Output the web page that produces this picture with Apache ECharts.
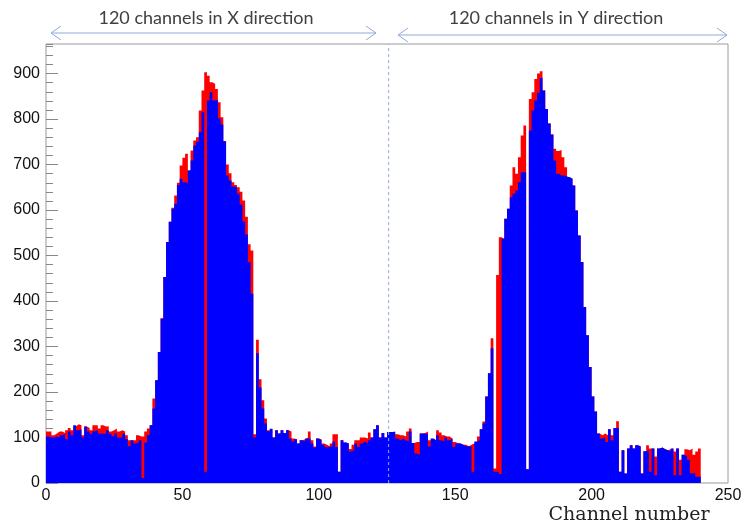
<!DOCTYPE html>
<html><head><meta charset="utf-8">
<script src="https://cdn.jsdelivr.net/npm/echarts@6/dist/echarts.min.js"></script>
<style>html,body{margin:0;padding:0;background:#fff}#c{width:745px;height:528px}</style>
</head><body><div id="c"></div>
<script>
// Channel counts (bin i spans [i, i+1])
const blueCounts = [
102,100,100,102,100,105,108,96,113,105,
127,116,118,100,124,113,108,114,116,109,
108,108,116,108,103,109,100,100,108,96,
81,94,87,89,94,11,89,105,127,164,
226,288,361,453,530,574,603,614,655,669,
661,659,687,709,742,750,771,815,25,841,
859,841,842,802,788,751,676,665,652,650,
636,612,575,546,485,416,100,285,210,164,
131,114,119,100,116,109,116,110,116,98,
91,96,87,94,91,98,98,87,78,98,
94,84,79,79,81,91,79,25,94,89,
87,69,73,87,79,87,91,87,94,100,
118,127,100,110,100,112,112,112,98,94,
98,94,91,113,88,65,62,109,108,108,
80,98,94,105,94,91,100,94,98,79,
87,87,84,81,81,80,25,91,94,118,
131,190,241,296,25,25,20,537,581,603,
628,636,643,661,683,683,30,775,819,841,
858,890,863,822,790,766,709,680,676,676,
674,672,669,654,599,544,486,387,325,255,
190,157,109,98,100,90,118,94,121,121,
25,72,21,76,83,76,83,80,21,70,
72,25,76,17,76,78,74,72,69,76,
17,76,17,62,58,51,21,22,14,14];
const redCounts = [
113,113,105,109,113,113,110,116,121,116,
125,129,127,105,124,121,116,127,127,120,
127,124,125,113,116,120,113,116,113,105,
94,94,94,105,102,102,113,120,127,186,
226,288,362,453,530,574,605,632,660,698,
715,724,687,731,753,760,819,863,903,895,
881,877,866,837,804,751,700,681,661,655,
650,640,621,585,525,511,107,315,228,182,
142,116,119,100,116,109,116,110,116,113,
98,96,87,94,96,100,113,94,80,98,
96,87,84,81,87,107,107,25,94,89,
87,75,84,94,94,100,100,98,111,100,
118,127,100,110,100,112,112,113,107,105,
105,102,113,120,88,90,90,109,110,113,
94,98,94,116,111,105,102,102,98,90,
88,87,84,84,81,84,87,91,102,118,
135,190,241,318,32,457,540,537,581,603,
654,694,680,716,764,786,30,844,859,888,
900,905,863,822,790,766,735,730,732,716,
694,672,669,654,599,544,486,387,325,255,
190,157,109,105,109,105,118,105,121,136,
25,72,21,76,83,76,83,80,21,70,
83,76,76,58,76,78,74,72,74,76,
69,76,51,62,74,72,76,62,69,76];
const xTicks = [0, 50, 100, 150, 200, 250];
const yMax = 965;
const dividerChannel = 125.6;
const xTitle = 'Channel number';
const topLabels = ['120 channels in X direction', '120 channels in Y direction'];

function histData(arr){
  const d = arr.map((v,i)=>[i,v]);
  d.push([arr.length, arr[arr.length-1]]);
  return d;
}

const chart = echarts.init(document.getElementById('c'), null, {renderer:'canvas'});
const arrowColor = '#8eaadb';
function arrow(x1, x2, y){
  return [
    {type:'line', shape:{x1:x1, y1:y, x2:x2, y2:y}, style:{stroke:arrowColor, lineWidth:1}},
    {type:'polyline', shape:{points:[[x1+10,y-7],[x1,y],[x1+10,y+7]]}, style:{stroke:arrowColor, lineWidth:1, fill:null}},
    {type:'polyline', shape:{points:[[x2-10,y-7],[x2,y],[x2-10,y+7]]}, style:{stroke:arrowColor, lineWidth:1, fill:null}}
  ];
}
chart.setOption({
  animation:false,
  backgroundColor:'#fff',
  grid:{left:46, right:17, top:44, bottom:45, show:true, borderColor:'#9a9a9a', borderWidth:1, backgroundColor:'transparent'},
  xAxis:{type:'value', min:0, max:250, interval:50,
    axisLine:{show:false}, axisTick:{show:false}, splitLine:{show:false},
    axisLabel:{fontFamily:'Liberation Sans', fontSize:16, color:'#111', margin:5}},
  yAxis:[
    {type:'value', min:0, max:yMax, interval:100, position:'left',
     axisLine:{show:false}, splitLine:{show:false},
     axisTick:{show:true, inside:true, length:12, lineStyle:{color:'#888'}},
     axisLabel:{fontFamily:'Liberation Sans', fontSize:16, color:'#111', margin:6, showMaxLabel:false}},
    {type:'value', min:0, max:yMax, interval:20, position:'left',
     axisLine:{show:false}, splitLine:{show:false},
     axisTick:{show:true, inside:true, length:7, lineStyle:{color:'#888'}},
     axisLabel:{show:false}}
  ],
  series:[
    {type:'line', step:'end', data:histData(redCounts), showSymbol:false, symbol:'none',
     lineStyle:{width:0, color:'#ff0000'}, areaStyle:{color:'#ff0000', opacity:1}, z:2, silent:true},
    {type:'line', step:'end', data:histData(blueCounts), showSymbol:false, symbol:'none',
     lineStyle:{width:0, color:'#0000ff'}, areaStyle:{color:'#0000ff', opacity:1}, z:3, silent:true},
    {type:'line', data:[[dividerChannel,0],[dividerChannel,yMax]], showSymbol:false, symbol:'none',
     lineStyle:{width:1, color:'#8eaadb', type:[3,3]}, z:5, silent:true}
  ],
  graphic:[
    {type:'text', x:206, y:18, style:{text:topLabels[0], font:'18px Lato', fill:'#404040', align:'center', verticalAlign:'middle'}},
    {type:'text', x:556, y:18, style:{text:topLabels[1], font:'18px Lato', fill:'#404040', align:'center', verticalAlign:'middle'}},
    ...arrow(51, 376, 33),
    ...arrow(398, 727, 35),
    {type:'text', x:629, y:515, style:{text:xTitle, font:'19px "DejaVu Serif"', fill:'#222', align:'center', verticalAlign:'middle'}}
  ]
});
</script></body></html>
